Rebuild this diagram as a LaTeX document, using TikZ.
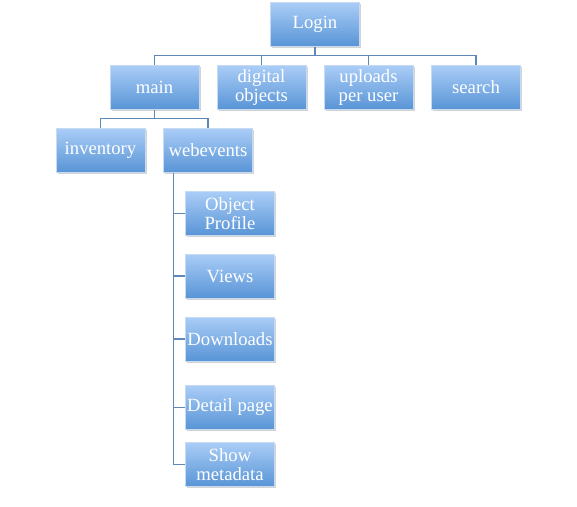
\documentclass[tikz,border=0pt]{standalone}
\usepackage{fontspec}
\setmainfont{Liberation Serif}
\usetikzlibrary{shadows}
\definecolor{boxtop}{HTML}{AACDF7}
\definecolor{boxbot}{HTML}{5894D6}
\definecolor{boxedge}{HTML}{C6DBF2}
\definecolor{linkc}{HTML}{5E88B6}
\begin{document}
\begin{tikzpicture}[x=0.75pt,y=-0.75pt,
  box/.style={draw=boxedge,line width=0.4pt,top color=boxtop,bottom color=boxbot,
    minimum width=66.75pt,minimum height=33pt,inner sep=0pt,align=center,
    text=white,font=\fontsize{14}{14.5}\selectfont,
    drop shadow={shadow xshift=1.2pt,shadow yshift=-1.2pt,opacity=0.35,fill=gray}},
  link/.style={draw=linkc,line width=1pt}]
\useasboundingbox (0,0) rectangle (577,506);
\node[box] (login) at (315,24.5) {Login};
\node[box] (main) at (154.5,87.5) {main};
\node[box] (digital) at (261.5,87.5) {digital\\objects};
\node[box] (uploads) at (368.5,87.5) {uploads\\per user};
\node[box] (search) at (476,87.5) {search};
\node[box] (inventory) at (100.5,150.5) {inventory};
\node[box] (webevents) at (208,150.5) {webevents};
\node[box] (profile) at (230,213.5) {Object\\Profile};
\node[box] (views) at (230,276) {Views};
\node[box] (downloads) at (230,339) {Downloads};
\node[box] (detail) at (230,407.5) {Detail page};
\node[box] (showmeta) at (230,464.5) {Show\\metadata};
\begin{scope}[on background layer/.try]
\foreach \c in {main,digital,uploads,search}
  \draw[link] (login.south) -- ++(0,9) -| (\c.north);
\foreach \c in {inventory,webevents}
  \draw[link] (main.south) -- ++(0,9) -| (\c.north);
\foreach \c in {profile,views,downloads,detail,showmeta}
  \draw[link] ([xshift=7.5pt]webevents.south west) |- (\c.west);
\end{scope}
\end{tikzpicture}
\end{document}
